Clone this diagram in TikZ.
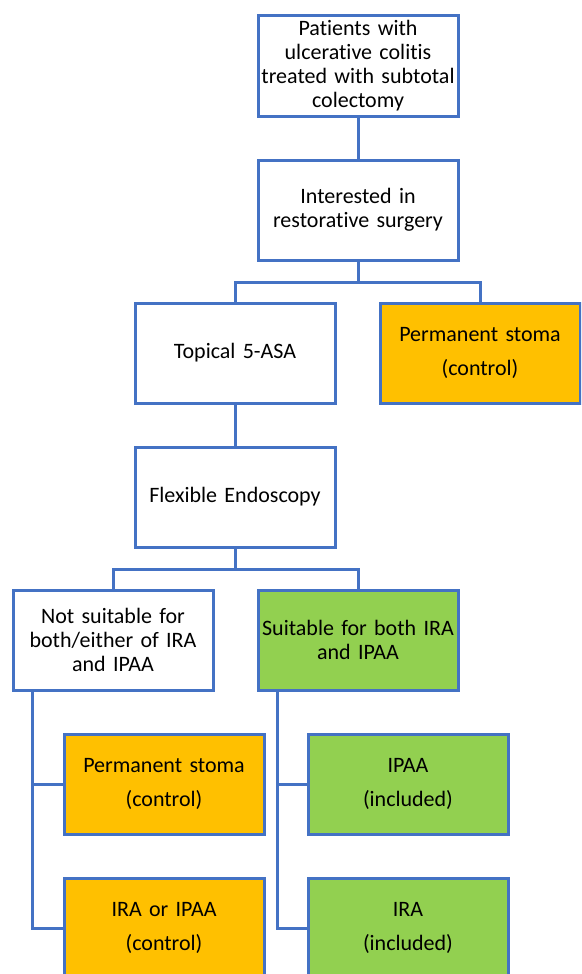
\documentclass[tikz,border=0pt]{standalone}
\usepackage{fontspec}
\setmainfont[Ligatures=NoCommon]{Carlito}
\definecolor{lineblue}{HTML}{4472C4}
\definecolor{boxorange}{HTML}{FFC000}
\definecolor{boxgreen}{HTML}{92D050}
\begin{document}
\begin{tikzpicture}[x=1pt,y=-1pt,
  box/.style={draw=lineblue, line width=3pt, fill=white, minimum width=200pt, minimum height=100pt,
    align=center, inner sep=1pt, font=\fontsize{22}{24}\selectfont, text width=196pt},
  orangebox/.style={box, fill=boxorange},
  greenbox/.style={box, fill=boxgreen},
  conn/.style={draw=lineblue, line width=3pt}]
\useasboundingbox (0,0) rectangle (581,974);
\clip (0,0) rectangle (581,974);
\node[box] (b1) at (358,66) {Patients with\\ulcerative colitis\\treated with subtotal\\colectomy};
\node[box] (b2) at (358,210) {Interested in\\restorative surgery};
\node[box] (b3) at (235,353) {Topical 5-ASA};
\node[orangebox] (b4) at (480,353) {Permanent stoma\\[10pt](control)};
\node[box] (b5) at (235,497) {Flexible Endoscopy};
\node[box] (b6) at (113,640) {Not suitable for\\both/either of IRA\\and IPAA};
\node[greenbox] (b7) at (358,640) {Suitable for both IRA\\and IPAA};
\node[orangebox] (b8) at (164,784) {Permanent stoma\\[10pt](control)};
\node[orangebox] (b9) at (164,928) {IRA or IPAA\\[10pt](control)};
\node[greenbox] (b10) at (408,784) {IPAA\\[10pt](included)};
\node[greenbox] (b11) at (408,928) {IRA\\[10pt](included)};
\draw[conn] (b1.south) -- (b2.north);
\draw[conn] (b2.south) -- ++(0,21) -| (b3.north);
\draw[conn] (b2.south) -- ++(0,21) -| (b4.north);
\draw[conn] (b3.south) -- (b5.north);
\draw[conn] (b5.south) -- ++(0,21) -| (b6.north);
\draw[conn] (b5.south) -- ++(0,21) -| (b7.north);
\draw[conn] (b6.south west) ++(21,0) |- (b8.west);
\draw[conn] (b6.south west) ++(21,0) |- (b9.west);
\draw[conn] (b7.south west) ++(21,0) |- (b10.west);
\draw[conn] (b7.south west) ++(21,0) |- (b11.west);
\end{tikzpicture}
\end{document}
